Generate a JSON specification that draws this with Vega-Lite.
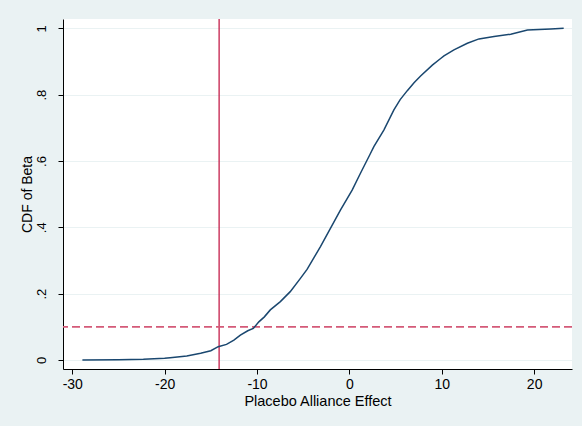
{
  "$schema": "https://vega.github.io/schema/vega-lite/v6.json",
  "width": 509,
  "height": 350,
  "autosize": {"type": "none"},
  "padding": {"left": 63, "top": 19, "right": 10, "bottom": 57},
  "background": "#EAF2F3",
  "config": {
    "view": {"fill": "white", "stroke": null},
    "font": "Liberation Sans",
    "axis": {
      "domainColor": "black", "domainWidth": 1,
      "tickColor": "black", "tickSize": 5, "tickWidth": 1,
      "labelColor": "black", "titleColor": "black",
      "labelFontSize": 14, "titleFontSize": 14, "titleFontWeight": "normal",
      "gridColor": "#EAF2F3", "gridWidth": 1
    }
  },
  "datasets": {
    "cdf": [
      {"beta": -28.9, "cdf": 0.0},
      {"beta": -25.0, "cdf": 0.001},
      {"beta": -22.3, "cdf": 0.002},
      {"beta": -20.0, "cdf": 0.005},
      {"beta": -19.4, "cdf": 0.007},
      {"beta": -17.6, "cdf": 0.012},
      {"beta": -16.1, "cdf": 0.02},
      {"beta": -15.0, "cdf": 0.028},
      {"beta": -14.2, "cdf": 0.04},
      {"beta": -13.3, "cdf": 0.047},
      {"beta": -12.5, "cdf": 0.06},
      {"beta": -11.8, "cdf": 0.075},
      {"beta": -11.0, "cdf": 0.088},
      {"beta": -10.4, "cdf": 0.095},
      {"beta": -9.8, "cdf": 0.115},
      {"beta": -9.2, "cdf": 0.13},
      {"beta": -8.56, "cdf": 0.151},
      {"beta": -7.47, "cdf": 0.176},
      {"beta": -6.4, "cdf": 0.206},
      {"beta": -5.3, "cdf": 0.246},
      {"beta": -4.58, "cdf": 0.273},
      {"beta": -3.8, "cdf": 0.31},
      {"beta": -3.13, "cdf": 0.342},
      {"beta": -2.05, "cdf": 0.397},
      {"beta": -0.97, "cdf": 0.452},
      {"beta": 0.3, "cdf": 0.512},
      {"beta": 1.2, "cdf": 0.563},
      {"beta": 2.2, "cdf": 0.618},
      {"beta": 2.65, "cdf": 0.643},
      {"beta": 3.73, "cdf": 0.693},
      {"beta": 4.82, "cdf": 0.754},
      {"beta": 5.5, "cdf": 0.785},
      {"beta": 6.27, "cdf": 0.812},
      {"beta": 7.0, "cdf": 0.836},
      {"beta": 7.71, "cdf": 0.856},
      {"beta": 8.98, "cdf": 0.889},
      {"beta": 9.88, "cdf": 0.909},
      {"beta": 10.24, "cdf": 0.917},
      {"beta": 11.32, "cdf": 0.935},
      {"beta": 12.77, "cdf": 0.955},
      {"beta": 14.03, "cdf": 0.968},
      {"beta": 15.66, "cdf": 0.975},
      {"beta": 17.47, "cdf": 0.982},
      {"beta": 19.28, "cdf": 0.995},
      {"beta": 21.8, "cdf": 0.998},
      {"beta": 23.2, "cdf": 1.0}
    ],
    "vline": [{"beta": -14.1}],
    "hline": [{"cdf": 0.1}]
  },
  "layer": [
    {
      "data": {"name": "vline"},
      "mark": {"type": "rule", "color": "#C41E4A", "strokeWidth": 1.3},
      "encoding": {
        "x": {"field": "beta", "type": "quantitative", "scale": {"domain": [-31.0, 24.1], "nice": false, "zero": false}}
      }
    },
    {
      "data": {"name": "hline"},
      "mark": {"type": "rule", "color": "#D45A78", "strokeWidth": 1.8, "strokeDash": [8, 4]},
      "encoding": {
        "y": {"field": "cdf", "type": "quantitative", "scale": {"domain": [-0.0272, 1.028], "nice": false, "zero": false}}
      }
    },
    {
      "data": {"name": "cdf"},
      "mark": {"type": "line", "color": "#1A476F", "strokeWidth": 1.5, "interpolate": "linear"},
      "encoding": {
        "x": {
          "field": "beta", "type": "quantitative",
          "scale": {"domain": [-31.0, 24.1], "nice": false, "zero": false},
          "axis": {"title": "Placebo Alliance Effect", "titleFontSize": 14.5, "values": [-30, -20, -10, 0, 10, 20], "grid": false, "labelPadding": 3, "titlePadding": 3, "labelExpr": "'' + datum.value"}
        },
        "y": {
          "field": "cdf", "type": "quantitative",
          "scale": {"domain": [-0.0272, 1.028], "nice": false, "zero": false},
          "axis": {
            "title": "CDF of Beta",
            "values": [0, 0.2, 0.4, 0.6, 0.8, 1],
            "grid": true,
            "labelAngle": -90,
            "labelFontSize": 13,
            "labelAlign": "center",
            "labelBaseline": "bottom",
            "labelPadding": 10,
            "labelExpr": "datum.value == 0 ? '0' : datum.value == 1 ? '1' : replace(format(datum.value, '.1f'), '0.', '.')",
            "titlePadding": 1
          }
        }
      }
    }
  ]
}
